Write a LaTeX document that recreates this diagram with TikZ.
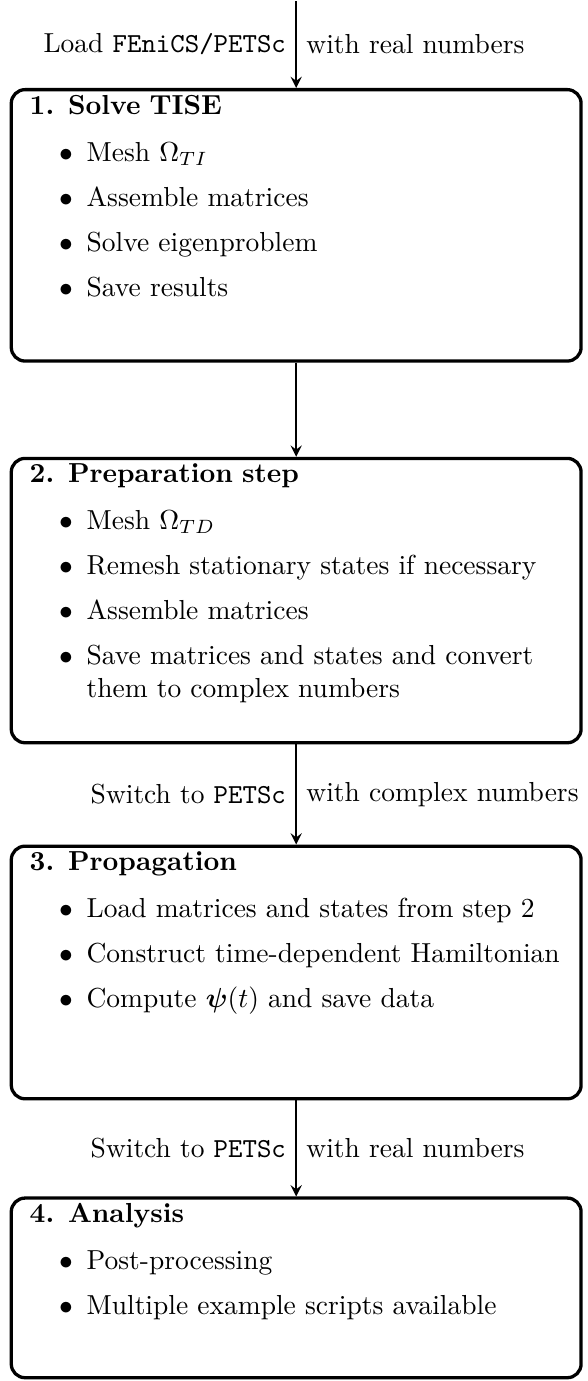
\documentclass[tikz,border=0pt]{standalone}
\usepackage{amsmath}
\usepackage{enumitem}
\usetikzlibrary{positioning}

\setlist[itemize]{label=$\bullet$, leftmargin=20.7pt, topsep=5pt, partopsep=0pt, itemsep=0pt, parsep=4.4pt}

% space below the last item of a box
\newcommand{\boxgap}[1]{\par\vspace{#1}\hrule height 0pt}

\begin{document}
\begin{tikzpicture}[
        stepbox/.style={rectangle, draw, rounded corners=5pt, very thick, text width=193.8pt, inner xsep=6.7pt, inner ysep=2pt, anchor=north},
        arrow/.style={thick,->,>=stealth}
    ]

    % Nodes
    \coordinate (start) at (0,0);

    \node (tise) [stepbox, below=31.6pt of start] {\textbf{1. Solve TISE}
    \begin{itemize}
        \item Mesh $\Omega_{TI}$
        \item Assemble matrices
        \item Solve eigenproblem
        \item Save results
    \end{itemize}
    \boxgap{16.3pt}};

    \node (prep) [stepbox, below=34.2pt of tise] {\textbf{2. Preparation step}
    \begin{itemize}
        \item Mesh $\Omega_{TD}$
        \item Remesh stationary states if necessary
        \item Assemble matrices
        \item Save matrices and states and convert them to complex numbers
    \end{itemize}
    \boxgap{7.4pt}};

    \node (prop) [stepbox, below=36.4pt of prep] {\textbf{3. Propagation}
    \begin{itemize}
        \item Load matrices and states from step 2
        \item Construct time-dependent Hamiltonian
        \item Compute $\boldsymbol{\psi}(t)$ and save data
    \end{itemize}
    \boxgap{23.7pt}};

    \node (ana) [stepbox, below=34.9pt of prop] {\textbf{4. Analysis}
    \begin{itemize}
        \item Post-processing
        \item Multiple example scripts available
    \end{itemize}
    \boxgap{14pt}};

    % Arrows
    \draw [arrow] (start) -- (tise.north) node[midway, left] {Load \texttt{FEniCS/PETSc}} node[midway, right] {with real numbers};
    \draw [arrow] (tise.south) -- (prep.north);
    \draw [arrow] (prep.south) -- (prop.north) node[midway, left] {Switch to \texttt{PETSc}} node[midway, right] {with complex numbers};
    \draw [arrow] (prop.south) -- (ana.north) node[midway, left] {Switch to \texttt{PETSc}} node[midway, right] {with real numbers};

    \useasboundingbox ([xshift=-3.5pt]ana.south west |- start) rectangle ([xshift=0.6pt, yshift=-0.6pt]ana.south east);

    \end{tikzpicture}
\end{document}
